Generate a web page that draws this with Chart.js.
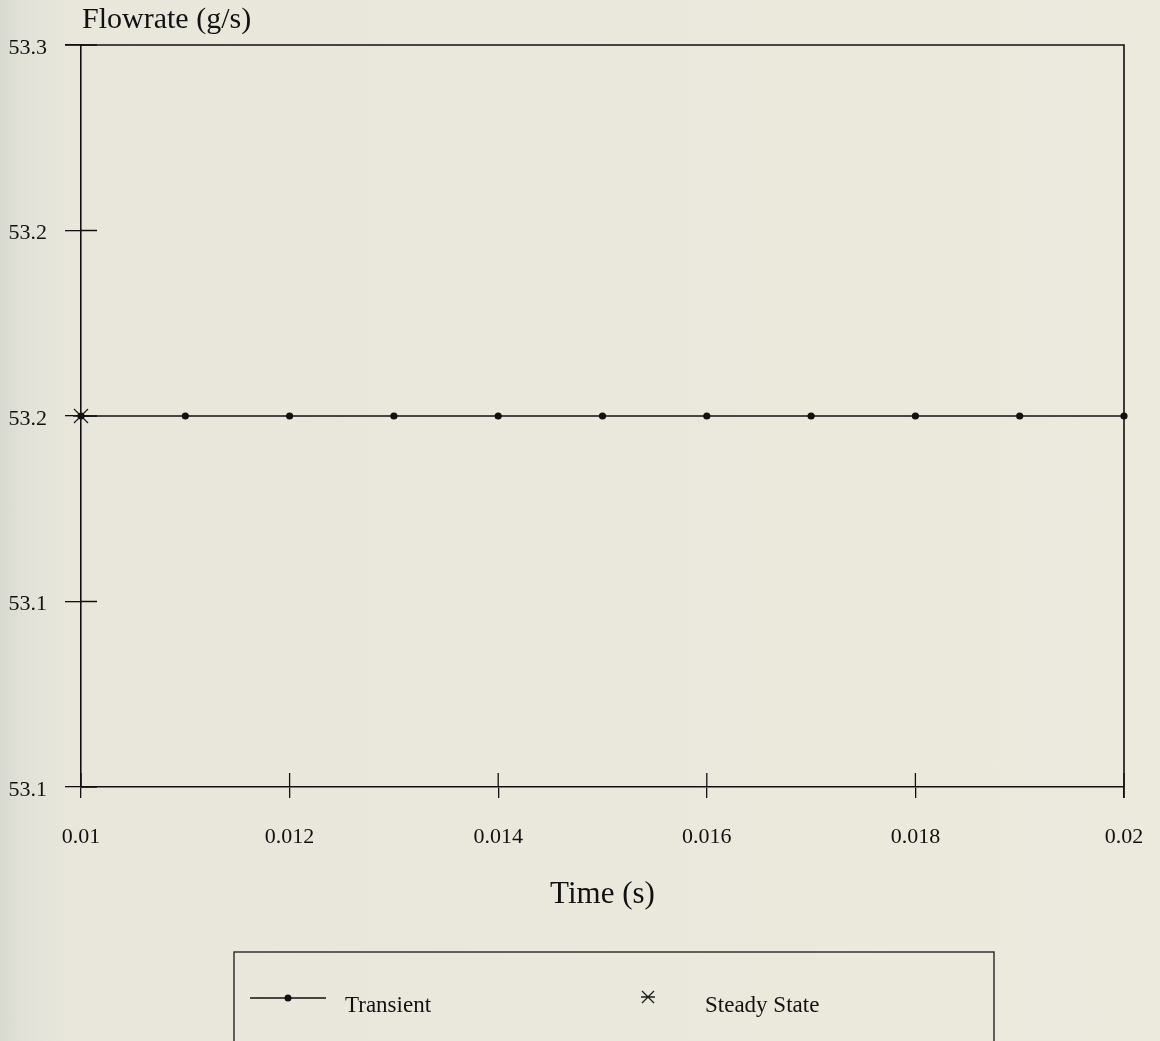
<!DOCTYPE html>
<html><head><meta charset="utf-8">
<script src="https://cdn.jsdelivr.net/npm/chart.js@4.4.1/dist/chart.umd.min.js"></script>
<style>
html,body{margin:0;padding:0;}
body{width:1160px;height:1041px;overflow:hidden;background:linear-gradient(90deg,#d8d9d0 0px,#e2e2d8 25px,#e9e7dc 70px,#ece9dd 100%);}
#wrap{position:relative;width:1160px;height:1041px;}
canvas{display:block;}
</style></head><body>
<div id="wrap"><canvas id="c" width="1160" height="1041"></canvas></div>
<script>
// ---- data ----
const xValues = [0.010, 0.011, 0.012, 0.013, 0.014, 0.015, 0.016, 0.017, 0.018, 0.019, 0.020];
const transientValues = [53.2, 53.2, 53.2, 53.2, 53.2, 53.2, 53.2, 53.2, 53.2, 53.2, 53.2];
const steadyX = [0.010];
const steadyValues = [53.2];
const xTickValues = [0.010, 0.012, 0.014, 0.016, 0.018, 0.020];
const xTickLabels = ['0.01', '0.012', '0.014', '0.016', '0.018', '0.02'];
const yTickValues = [53.1, 53.15, 53.2, 53.25, 53.3];
const yTickLabels = ['53.1', '53.1', '53.2', '53.2', '53.3'];
const seriesNames = ['Transient', 'Steady State'];
const xAxisTitle = 'Time (s)';
const yAxisTitle = 'Flowrate (g/s)';

const FONT = '"Liberation Serif", "Times New Roman", serif';
const INK = '#111111';

function makeStar(size) {
  const c = document.createElement('canvas');
  c.width = size; c.height = size;
  const g = c.getContext('2d');
  const m = size / 2, e = 2;
  g.strokeStyle = '#1e1e1e';
  g.lineWidth = 1.3;
  g.beginPath();
  g.moveTo(e, e); g.lineTo(size - e, size - e);
  g.moveTo(size - e, e); g.lineTo(e, size - e);
  g.moveTo(1, m); g.lineTo(size - 1, m);
  g.stroke();
  return c;
}
const starImg = makeStar(16);
const starPlotImg = makeStar(18);

const deco = {
  id: 'deco',
  afterDraw(chart) {
    const { ctx, chartArea: a, scales: { x, y } } = chart;
    ctx.save();
    ctx.strokeStyle = INK;
    ctx.lineWidth = 1.6;
    ctx.beginPath();
    ctx.moveTo(a.left - 16, a.top);
    ctx.lineTo(a.right, a.top);
    ctx.lineTo(a.right, a.bottom + 11);
    ctx.stroke();
    ctx.lineWidth = 1.3;
    ctx.beginPath();
    x.ticks.forEach(t => { const px = x.getPixelForValue(t.value); ctx.moveTo(px, a.bottom); ctx.lineTo(px, a.bottom - 14); });
    y.ticks.forEach(t => { const py = y.getPixelForValue(t.value); ctx.moveTo(a.left, py); ctx.lineTo(a.left + 16, py); });
    ctx.stroke();

    // axis titles
    ctx.fillStyle = INK;
    ctx.font = '30px ' + FONT;
    ctx.textBaseline = 'alphabetic';
    ctx.textAlign = 'left';
    ctx.fillText(yAxisTitle, 82, 28);
    ctx.font = '31px ' + FONT;
    ctx.textAlign = 'center';
    ctx.fillText(xAxisTitle, (a.left + a.right) / 2, 903);

    // legend box
    ctx.lineWidth = 1.5;
    ctx.strokeStyle = '#333';
    ctx.beginPath();
    ctx.moveTo(234, 1045); ctx.lineTo(234, 952); ctx.lineTo(994, 952); ctx.lineTo(994, 1045);
    ctx.stroke();
    // legend items
    const ds = chart.data.datasets;
    ctx.strokeStyle = INK; ctx.lineWidth = 1.5;
    ctx.beginPath(); ctx.moveTo(250, 998); ctx.lineTo(326, 998); ctx.stroke();
    ctx.fillStyle = INK;
    ctx.beginPath(); ctx.arc(288, 998, 3.5, 0, Math.PI * 2); ctx.fill();
    ctx.drawImage(starImg, 648 - 8, 997 - 8);
    ctx.font = '23px ' + FONT;
    ctx.textAlign = 'left';
    ctx.fillText(ds[0].label, 345, 1012);
    ctx.fillText(ds[1].label, 705, 1012);
    ctx.restore();
  }
};

new Chart(document.getElementById('c'), {
  type: 'scatter',
  data: {
    datasets: [
      {
        label: seriesNames[0],
        data: xValues.map((v, i) => ({ x: v, y: transientValues[i] })),
        showLine: true,
        borderColor: INK,
        borderWidth: 1.6,
        pointRadius: 3.6,
        pointBackgroundColor: INK,
        pointBorderColor: INK,
        pointBorderWidth: 0,
        clip: false
      },
      {
        label: seriesNames[1],
        data: steadyX.map((v, i) => ({ x: v, y: steadyValues[i] })),
        showLine: false,
        pointStyle: starPlotImg,
        pointRadius: 9,
        clip: false
      }
    ]
  },
  options: {
    responsive: false,
    animation: false,
    devicePixelRatio: 1,
    layout: { padding: { top: 45, right: 36, left: 0, bottom: 174 } },
    plugins: { legend: { display: false }, tooltip: { enabled: false } },
    scales: {
      x: {
        type: 'linear', min: 0.01, max: 0.02,
        afterBuildTicks: s => { s.ticks = xTickValues.map(v => ({ value: v })); },
        afterFit: s => { s.height = 80; },
        grid: { drawOnChartArea: false, drawTicks: true, tickLength: 11, color: INK, tickColor: INK, lineWidth: 1.3 },
        border: { display: true, color: INK, width: 1.6 },
        ticks: {
          autoSkip: false, maxRotation: 0, padding: 3, color: INK,
          font: { family: FONT, size: 22, lineHeight: '72px' },
          callback: (v, i) => xTickLabels[i]
        }
      },
      y: {
        type: 'linear', min: 53.1, max: 53.3,
        afterBuildTicks: s => { s.ticks = yTickValues.map(v => ({ value: v })); },
        afterFit: s => { s.width = 81; },
        grid: { drawOnChartArea: false, drawTicks: true, tickLength: 16, color: INK, tickColor: INK, lineWidth: 1.3 },
        border: { display: true, color: INK, width: 1.6 },
        ticks: {
          autoSkip: false, padding: 18, color: INK, labelOffset: 3,
          font: { family: FONT, size: 22 },
          callback: (v, i) => yTickLabels[i]
        }
      }
    }
  },
  plugins: [deco]
});
</script>
</body></html>
